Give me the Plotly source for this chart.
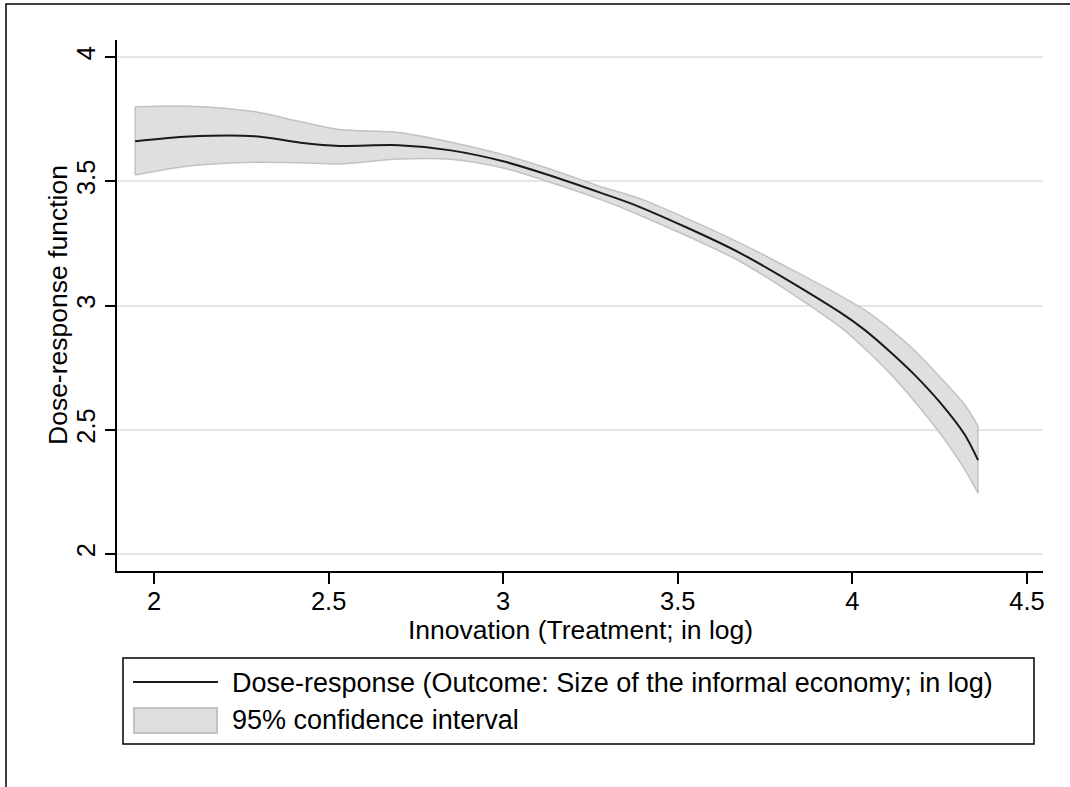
import plotly.graph_objects as go

# ---- data ----
treatment = [1.946, 2.10, 2.29, 2.42, 2.53, 2.70, 2.85, 3.00, 3.13, 3.28, 3.39,
             3.68, 3.965, 4.036, 4.108, 4.179, 4.251, 4.322, 4.36]
dose_response = [3.661, 3.680, 3.681, 3.655, 3.642, 3.645, 3.624, 3.580, 3.525,
                 3.453, 3.397, 3.210, 2.972, 2.901, 2.814, 2.720, 2.610, 2.480, 2.378]
ci_upper = [3.799, 3.802, 3.779, 3.739, 3.708, 3.696, 3.657, 3.607, 3.551,
            3.478, 3.431, 3.250, 3.040, 2.981, 2.905, 2.818, 2.712, 2.600, 2.515]
ci_lower = [3.525, 3.561, 3.576, 3.574, 3.569, 3.589, 3.588, 3.553, 3.498,
            3.426, 3.364, 3.176, 2.914, 2.826, 2.727, 2.613, 2.486, 2.340, 2.245]

x_ticks = [2, 2.5, 3, 3.5, 4, 4.5]
x_ticktext = ["2", "2.5", "3", "3.5", "4", "4.5"]
y_ticks = [2, 2.5, 3, 3.5, 4]
y_ticktext = ["2", "2.5", "3", "3.5", "4"]

x_title = "Innovation (Treatment; in log)"
y_title = "Dose-response function"
legend_line = "Dose-response (Outcome: Size of the informal economy; in log)"
legend_ci = "95% confidence interval"

# ---- styling ----
FONT = "Liberation Sans, Arial, Helvetica, sans-serif"
W, H = 1070, 787
L, R, T, B = 117, 1043, 40, 571   # plot area in pixels
FILL = "#dfdfdf"
EDGE = "#c2c2c2"
LINE = "#1a1a1a"


def px(xp):
    return (xp - L) / (R - L)


def py(yp):
    return (B - yp) / (B - T)


fig = go.Figure()

spl = dict(shape="spline", smoothing=0.8)
# CI band: lower edge, then upper edge filled to lower
fig.add_trace(go.Scatter(x=treatment, y=ci_lower, mode="lines",
                         line=dict(color=EDGE, width=1.5, **spl),
                         hoverinfo="skip", showlegend=False))
fig.add_trace(go.Scatter(x=treatment, y=ci_upper, mode="lines", fill="tonexty",
                         fillcolor=FILL,
                         line=dict(color=EDGE, width=1.5, **spl),
                         hoverinfo="skip", showlegend=False))
# vertical end edges of the band
fig.add_trace(go.Scatter(x=[treatment[0], treatment[0], None, treatment[-1], treatment[-1]],
                         y=[ci_lower[0], ci_upper[0], None, ci_lower[-1], ci_upper[-1]],
                         mode="lines", line=dict(color=EDGE, width=1.5),
                         hoverinfo="skip", showlegend=False))
# dose-response line
fig.add_trace(go.Scatter(x=treatment, y=dose_response, mode="lines",
                         line=dict(color=LINE, width=2, **spl),
                         showlegend=False))

# ---- outer frame and manual legend ----
shapes = [
    dict(type="rect", xref="paper", yref="paper",
         x0=px(6), x1=px(1200), y0=py(4), y1=py(900),
         line=dict(color="black", width=1.5), fillcolor="rgba(0,0,0,0)", layer="below"),
    dict(type="rect", xref="paper", yref="paper",
         x0=px(123), x1=px(1034), y0=py(658), y1=py(744),
         line=dict(color="black", width=1.5), fillcolor="white"),
    dict(type="line", xref="paper", yref="paper",
         x0=px(133), x1=px(218), y0=py(682), y1=py(682),
         line=dict(color=LINE, width=2)),
    dict(type="rect", xref="paper", yref="paper",
         x0=px(134), x1=px(217), y0=py(708), y1=py(733),
         line=dict(color=EDGE, width=2), fillcolor=FILL),
]
annotations = [
    dict(text=legend_line, xref="paper", yref="paper", x=px(230), y=py(683),
         xanchor="left", yanchor="middle", showarrow=False,
         font=dict(family=FONT, size=27, color="black")),
    dict(text=legend_ci, xref="paper", yref="paper", x=px(230), y=py(720),
         xanchor="left", yanchor="middle", showarrow=False,
         font=dict(family=FONT, size=27, color="black")),
    dict(text=y_title, xref="paper", yref="paper", x=px(58), y=py(305),
         xanchor="center", yanchor="middle", textangle=-90, showarrow=False,
         font=dict(family=FONT, size=26.5, color="black")),
    dict(text=x_title, xref="paper", yref="paper", x=px(580), y=py(630),
         xanchor="center", yanchor="middle", showarrow=False,
         font=dict(family=FONT, size=26.5, color="black")),
]

fig.update_layout(
    width=W, height=H,
    margin=dict(l=L, r=W - R, t=T, b=H - B, pad=0),
    paper_bgcolor="white", plot_bgcolor="white",
    font=dict(family=FONT, color="black"),
    showlegend=False,
    shapes=shapes, annotations=annotations,
    xaxis=dict(range=[1.894, 4.546], tickvals=x_ticks, ticktext=x_ticktext,
               ticks="outside", ticklen=11, tickwidth=1.5, tickcolor="black",
               showline=True, linecolor="black", linewidth=1.5,
               showgrid=False, zeroline=False, ticklabelstandoff=-4,
               tickfont=dict(family=FONT, size=25.5, color="black")),
    yaxis=dict(range=[1.932, 4.068], tickvals=y_ticks, ticktext=y_ticktext,
               ticks="outside", ticklen=10, tickwidth=1.5, tickcolor="black",
               tickangle=-90,
               showline=True, linecolor="black", linewidth=1.5,
               showgrid=True, gridcolor="#e6e6e6", gridwidth=2, zeroline=False,
               tickfont=dict(family=FONT, size=25.5, color="black")),
)

fig.write_html("out.html")
